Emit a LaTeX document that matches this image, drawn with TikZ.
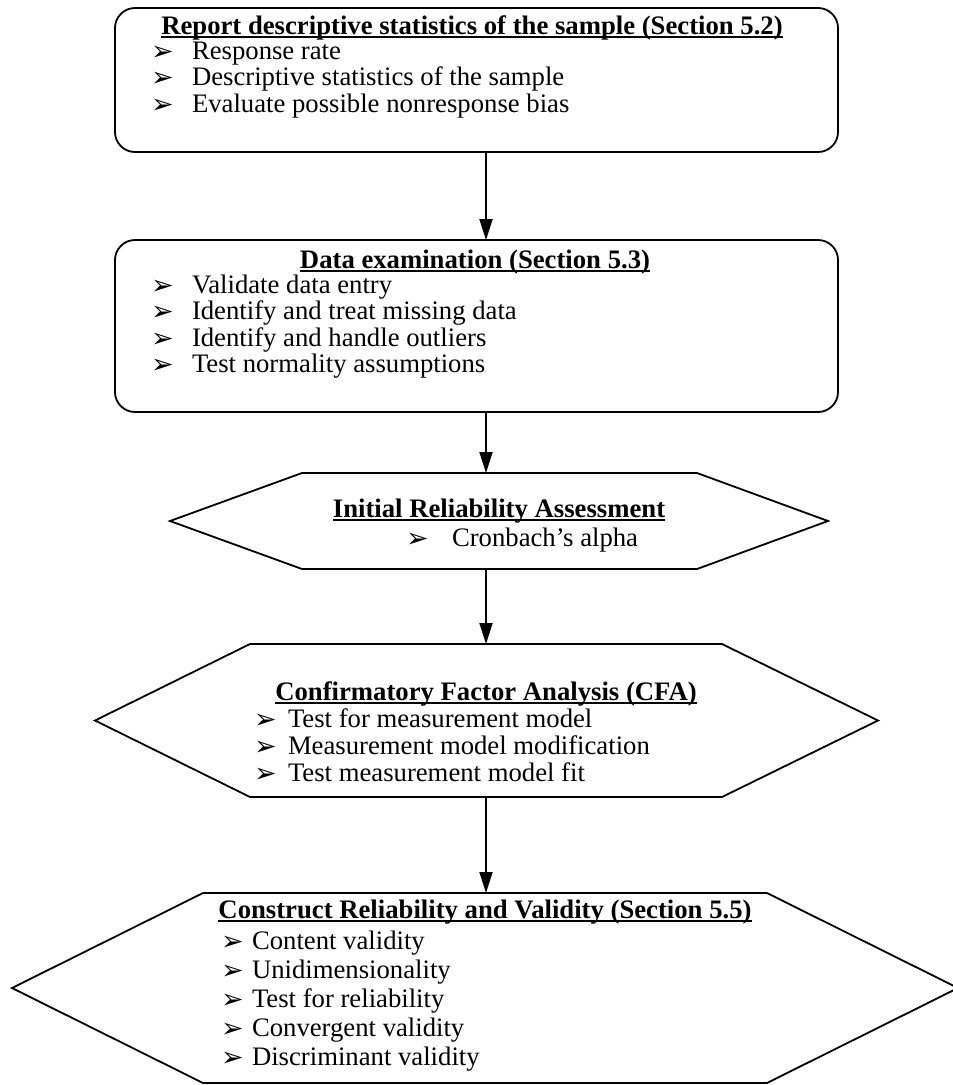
\documentclass[tikz,border=0pt]{standalone}
\usepackage{fontspec}
\setmainfont{Liberation Serif}
\newfontfamily\dingfont{DejaVu Sans}
\usetikzlibrary{arrows.meta}

% bold, underlined heading
\newcommand\headline[1]{\setbox0\hbox{\bfseries #1}\rlap{\rule[-4pt]{\wd0}{1.8pt}}\box0}
% three-d arrowhead bullet followed by its text, #1 = gap from bullet start to text
\newcommand\bulleted[2]{\makebox[#1][l]{\dingfont\fontsize{27}{27}\selectfont\raisebox{-1pt}{➢}}#2}

\begin{document}
\begin{tikzpicture}[x=1pt,y=-1pt,
  every node/.style={inner sep=0pt, outer sep=0pt},
  outline/.style={line width=1.8pt, line join=miter},
  flow/.style={line width=1.8pt, -{Triangle[width=13pt,length=21pt]}},
  heading/.style={font=\fontsize{26.7}{30}\selectfont, anchor=base},
  item/.style={font=\fontsize{26.7}{30}\selectfont, anchor=base west}
]
\useasboundingbox (0,0) rectangle (953,1085);

% ---- step 1: descriptive statistics ----
\node[draw, outline, rounded corners=20pt, minimum width=723pt, minimum height=144pt] (s1) at (476.5,80) {};
\node[heading] (s1h) at (472,34) {\headline{Report descriptive statistics of the sample (Section 5.2)}};
\node[item] (s1a) at (151,59)    {\bulleted{41pt}{Response rate}};
\node[item] (s1b) at (151,85.5)  {\bulleted{41pt}{Descriptive statistics of the sample}};
\node[item] (s1c) at (151,112)   {\bulleted{41pt}{Evaluate possible nonresponse bias}};

% ---- step 2: data examination ----
\node[draw, outline, rounded corners=20pt, minimum width=723pt, minimum height=172pt] (s2) at (476.5,326) {};
\node[heading] (s2h) at (475,268) {\headline{Data examination (Section 5.3)}};
\node[item] (s2a) at (151,293)   {\bulleted{41pt}{Validate data entry}};
\node[item] (s2b) at (151,319.5) {\bulleted{41pt}{Identify and treat missing data}};
\node[item] (s2c) at (151,346)   {\bulleted{41pt}{Identify and handle outliers}};
\node[item] (s2d) at (151,372.5) {\bulleted{41pt}{Test normality assumptions}};

% ---- step 3: initial reliability ----
\node[minimum width=658pt, minimum height=96pt] (s3) at (499,521) {};
\draw[outline] ([xshift=132pt]s3.north west) -- ([xshift=-131pt]s3.north east) -- (s3.east)
  -- ([xshift=-131pt]s3.south east) -- ([xshift=132pt]s3.south west) -- (s3.west) -- cycle;
\node[heading] (s3h) at (499,517) {\headline{Initial Reliability Assessment}};
\node[item] (s3a) at (406,546) {\bulleted{46pt}{Cronbach’s alpha}};

% ---- step 4: CFA ----
\node[minimum width=783pt, minimum height=153pt] (s4) at (486.5,720.5) {};
\draw[outline] ([xshift=155pt]s4.north west) -- ([xshift=-156pt]s4.north east) -- (s4.east)
  -- ([xshift=-156pt]s4.south east) -- ([xshift=155pt]s4.south west) -- (s4.west) -- cycle;
\node[heading] (s4h) at (486,700) {\headline{Confirmatory Factor Analysis (CFA)}};
\node[item] (s4a) at (254,727) {\bulleted{34pt}{Test for measurement model}};
\node[item] (s4b) at (254,754) {\bulleted{34pt}{Measurement model modification}};
\node[item] (s4c) at (254,781) {\bulleted{34pt}{Test measurement model fit}};

% ---- step 5: construct reliability and validity ----
\node[minimum width=946pt, minimum height=190pt] (s5) at (485,988) {};
\draw[outline] ([xshift=191pt]s5.north west) -- ([xshift=-191pt]s5.north east) -- (s5.east)
  -- ([xshift=-191pt]s5.south east) -- ([xshift=191pt]s5.south west) -- (s5.west) -- cycle;
\node[heading] (s5h) at (485,918) {\headline{Construct Reliability and Validity (Section 5.5)}};
\node[item] (s5a) at (221,949)  {\bulleted{31pt}{Content validity}};
\node[item] (s5b) at (221,978)  {\bulleted{31pt}{Unidimensionality}};
\node[item] (s5c) at (221,1007) {\bulleted{31pt}{Test for reliability}};
\node[item] (s5d) at (221,1036) {\bulleted{31pt}{Convergent validity}};
\node[item] (s5e) at (221,1065) {\bulleted{31pt}{Discriminant validity}};

% ---- connectors, all on one vertical axis ----
\coordinate (axis) at (486,0);
\draw[flow] (s1.south -| axis) -- (s2.north -| axis);
\draw[flow] (s2.south -| axis) -- (s3.north -| axis);
\draw[flow] (s3.south -| axis) -- (s4.north -| axis);
\draw[flow] (s4.south -| axis) -- (s5.north -| axis);
\end{tikzpicture}
\end{document}
